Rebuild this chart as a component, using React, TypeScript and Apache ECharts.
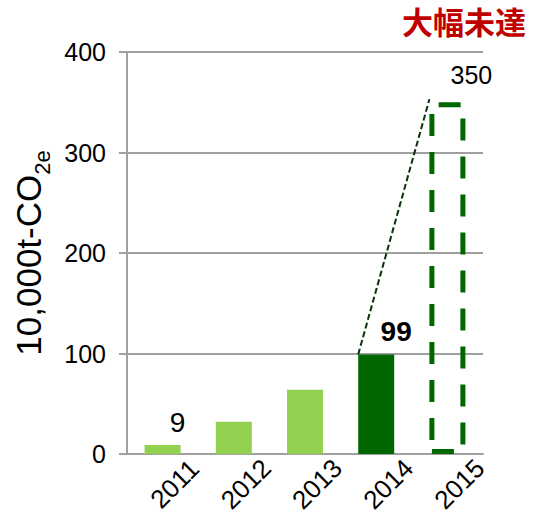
import React, { useEffect, useRef } from 'react';
import * as echarts from 'echarts';

const categories = ['2011', '2012', '2013', '2014', '2015'];
const actualValues = [9, 32, 64, 99, null];
const targetValues = [null, null, null, null, 350];
const connector = [[3, 99, 4, 350]];
const yMin = 0;
const yMax = 400;
const yInterval = 100;
const titleText = '大幅未達';
const yName = '{a|10,000t-CO}{b|2e}';

const FONT = '"Liberation Sans", Arial, sans-serif';
const LIGHT = '#92d050';
const DARK = '#006600';
const GRAY = '#a0a0a0';
const BAR_W = 36;

export default function App() {
  const ref = useRef<HTMLDivElement>(null);
  useEffect(() => {
    if (!ref.current) return;
    const chart = echarts.init(ref.current, undefined, { renderer: 'svg' });
    const actualData = actualValues.map((v, i) => {
      if (v === null) return null;
      const item: any = { value: v, itemStyle: { color: i === 3 ? DARK : LIGHT } };
      if (i === 0) {
        item.label = { show: true, position: 'top', fontSize: 28, color: '#000', fontFamily: FONT, offset: [15, -3], formatter: '{c}' };
      }
      if (i === 3) {
        item.label = { show: true, position: 'top', fontSize: 28, fontWeight: 'bold', color: '#000', fontFamily: FONT, offset: [20, -4], formatter: '{c}' };
      }
      return item;
    });
    const targetData = targetValues.map((v) => {
      if (v === null) return null;
      return {
        value: v,
        label: { show: true, position: 'top', fontSize: 25, color: '#000', fontFamily: FONT, offset: [24, -10], formatter: '{c}' },
      };
    });
    chart.setOption({
      animation: false,
      backgroundColor: '#fff',
      graphic: [
        {
          type: 'text',
          x: 526,
          y: 5,
          silent: true,
          style: {
            text: titleText,
            fill: '#c00000',
            align: 'right',
            verticalAlign: 'top',
            font: 'bold 31px "Noto Sans CJK JP", sans-serif',
          },
        },
      ],
      grid: { left: 127, right: 51, top: 52, bottom: 68, containLabel: false },
      xAxis: {
        type: 'category',
        data: categories,
        axisLine: { show: true, lineStyle: { color: GRAY, width: 2 } },
        axisTick: { show: false },
        axisLabel: {
          interval: 0,
          rotate: 45,
          align: 'center',
          verticalAlign: 'middle',
          margin: 42,
          padding: [24, 0, 0, 34],
          fontSize: 26,
          color: '#000',
          fontFamily: FONT,
        },
      },
      yAxis: {
        type: 'value',
        min: yMin,
        max: yMax,
        interval: yInterval,
        name: yName,
        nameLocation: 'middle',
        nameRotate: 90,
        nameGap: 67,
        nameTextStyle: {
          rich: {
            a: { fontSize: 35, color: '#000', fontFamily: FONT, padding: [0, 0, 7, 0], verticalAlign: 'bottom' },
            b: { fontSize: 22, color: '#000', fontFamily: FONT, verticalAlign: 'bottom' },
          },
        },
        axisLine: { show: true, lineStyle: { color: GRAY, width: 2 } },
        axisTick: { show: true, length: 8, inside: false, lineStyle: { color: GRAY, width: 2 } },
        splitLine: { show: true, lineStyle: { color: GRAY, width: 2 } },
        axisLabel: { fontSize: 25, color: '#000', margin: 21, fontFamily: FONT },
      },
      series: [
        {
          type: 'bar',
          name: 'actual',
          data: actualData,
          barWidth: BAR_W,
          barGap: '-100%',
          z: 2,
        },
        {
          type: 'bar',
          name: 'target',
          data: targetData,
          barWidth: BAR_W,
          barGap: '-100%',
          itemStyle: { color: 'rgba(0,0,0,0)', borderColor: DARK, borderWidth: 5, borderType: [22, 16] },
          z: 3,
        },
        {
          type: 'custom',
          name: 'connector',
          data: connector,
          z: 5,
          silent: true,
          renderItem: (params: any, api: any) => {
            const p1 = api.coord([api.value(0), api.value(1)]);
            const p2 = api.coord([api.value(2), api.value(3)]);
            return {
              type: 'line',
              shape: { x1: p1[0] - BAR_W / 2, y1: p1[1], x2: p2[0] - BAR_W / 2, y2: p2[1] - 3 },
              style: { stroke: '#0a320a', lineWidth: 2, lineDash: [6, 3] },
            };
          },
        },
      ],
    });
    return () => chart.dispose();
  }, []);
  return <div ref={ref} style={{ position: 'fixed', left: 0, top: 0, width: 534, height: 522 }} />;
}
